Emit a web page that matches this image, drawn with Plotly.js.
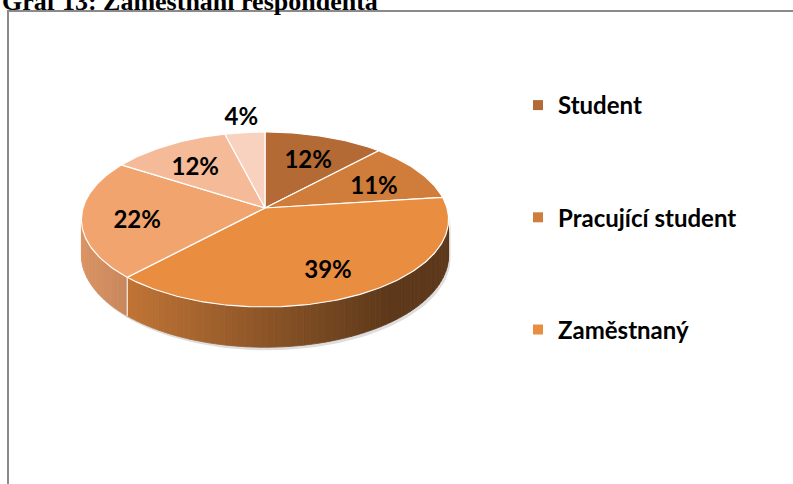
<!DOCTYPE html>
<html>
<head>
<meta charset="utf-8">
<script src="https://cdn.plot.ly/plotly-3.0.1.min.js"></script>
<style>html,body{margin:0;padding:0;background:#fff;overflow:hidden}#chart{width:793px;height:484px}</style>
</head>
<body>
<div id="chart"></div>
<script>
// ---- data ----
const chartTitle = 'Graf 13: Zaměstnání respondenta';
const categories = ['Student', 'Pracující student', 'Zaměstnaný', 'Nezaměstnaný', 'Na mateřské dovolené', 'Jiné'];
const values = [12, 11, 39, 22, 12, 4];
const valueLabels = ['12%', '11%', '39%', '22%', '12%', '4%'];
const legendCount = 3; // only the first three entries fit in the original legend

// ---- style ----
const sliceColors = ['#B36A34', '#D07C3A', '#E98D41', '#F2A46F', '#F5BA98', '#F8D2BF'];
const geom = {cx: 265, cy: 208, rx: 182, ry: 86, k: 0.131, depth: 35, labelDrop: 6};
const labelFont = {family: 'Lato, "Open Sans", sans-serif', size: 24, color: '#000', weight: 'bold'};

function proj(deg, r, drop) {
  const t = deg * Math.PI / 180;
  const X = r * Math.sin(t), Z = r * Math.cos(t);
  const w = 1 + geom.k * Z;
  return [geom.cx + geom.rx * X / w, geom.cy - geom.ry * Z / w + (drop ? geom.depth / w : 0)];
}
function hexToRgb(h) { const n = parseInt(h.slice(1), 16); return [(n >> 16) & 255, (n >> 8) & 255, n & 255]; }
function shade(h, f) { const c = hexToRgb(h).map(v => Math.round(v * f)); return 'rgb(' + c.join(',') + ')'; }

const total = values.reduce((a, b) => a + b, 0);
const starts = [], ends = [];
let acc = 0;
values.forEach(v => { starts.push(acc / total * 360); acc += v; ends.push(acc / total * 360); });

const traces = [];

// legend entries
for (let i = 0; i < legendCount; i++) {
  traces.push({x: [null], y: [null], type: 'scatter', mode: 'markers', name: categories[i],
    legendgroup: 'g' + i, showlegend: true,
    marker: {symbol: 'square', size: 10, color: sliceColors[i]}, hoverinfo: 'skip'});
}

// side of the disc
const silL = 90 + Math.asin(geom.k) * 180 / Math.PI;
const silR = 270 - Math.asin(geom.k) * 180 / Math.PI;
const xMin = proj(silR, 1, false)[0], xMax = proj(silL, 1, false)[0];

// shadow under the side
(function () {
  const xs = [], ys = [];
  for (let a = silL; a <= silR + 0.001; a += 2) { const p = proj(a, 1, false); xs.push(p[0] + 2); ys.push(p[1] + 2); }
  for (let a = silR; a >= silL - 0.001; a -= 2) { const p = proj(a, 1, true); xs.push(p[0] + 2); ys.push(p[1] + 3); }
  traces.push({x: xs, y: ys, type: 'scatter', mode: 'lines', fill: 'toself', fillcolor: 'rgba(0,0,0,0.13)',
    line: {width: 0}, showlegend: false, hoverinfo: 'skip'});
})();

const cuts = [silL];
ends.forEach(e => { if (e > silL && e < silR) cuts.push(e); });
cuts.push(silR);
cuts.sort((a, b) => a - b);
for (let c = 0; c < cuts.length - 1; c++) {
  const a0 = cuts[c], a1 = cuts[c + 1];
  const n = Math.max(1, Math.ceil((a1 - a0) / 2));
  for (let s = 0; s < n; s++) {
    const b0 = a0 + (a1 - a0) * s / n, b1 = a0 + (a1 - a0) * (s + 1) / n;
    const mid = (b0 + b1) / 2;
    let idx = 0;
    for (let i = 0; i < values.length; i++) if (mid >= starts[i] && mid < ends[i]) idx = i;
    const pm = proj(mid, 1, false);
    const t = (pm[0] - xMin) / (xMax - xMin);
    const f = Math.max(0.4, 0.9 - 0.6 * t);
    const col = shade(sliceColors[idx], f);
    const p0 = proj(b0, 1, false), p1 = proj(b1, 1, false), q1 = proj(b1, 1, true), q0 = proj(b0, 1, true);
    traces.push({x: [p0[0], p1[0], q1[0], q0[0], p0[0]], y: [p0[1], p1[1], q1[1], q0[1], p0[1]],
      type: 'scatter', mode: 'lines', fill: 'toself', fillcolor: col, line: {color: col, width: 0.8},
      showlegend: false, hoverinfo: 'skip'});
  }
}
// white joints on the side
ends.forEach(e => {
  if (e > silL && e < silR) {
    const p = proj(e, 1, false), q = proj(e, 1, true);
    traces.push({x: [p[0], q[0]], y: [p[1], q[1]], type: 'scatter', mode: 'lines',
      line: {color: 'rgba(255,255,255,0.85)', width: 1.2}, showlegend: false, hoverinfo: 'skip'});
  }
});

// top face slices
values.forEach((v, i) => {
  const xs = [geom.cx], ys = [geom.cy];
  const n = Math.max(2, Math.ceil((ends[i] - starts[i])));
  for (let s = 0; s <= n; s++) {
    const p = proj(starts[i] + (ends[i] - starts[i]) * s / n, 1, false);
    xs.push(p[0]); ys.push(p[1]);
  }
  xs.push(geom.cx); ys.push(geom.cy);
  traces.push({x: xs, y: ys, type: 'scatter', mode: 'lines', fill: 'toself', fillcolor: sliceColors[i],
    line: {color: '#ffffff', width: 1.2}, showlegend: false, hoverinfo: 'skip'});
});

// data labels
const lx = [], ly = [];
values.forEach((v, i) => {
  const mid = (starts[i] + ends[i]) / 2;
  const inside = v / total >= 0.06;
  const p = proj(mid, inside ? 0.7 : 1.2, false);
  lx.push(p[0]); ly.push(p[1] + (inside ? geom.labelDrop : 0));
});
traces.push({x: lx, y: ly, text: valueLabels, type: 'scatter', mode: 'text', textposition: 'middle center',
  textfont: labelFont, showlegend: false, hoverinfo: 'skip', cliponaxis: false});

const layout = {
  width: 793, height: 484,
  margin: {l: 0, r: 0, t: 0, b: 0},
  paper_bgcolor: '#fff', plot_bgcolor: '#fff',
  xaxis: {range: [0, 793], visible: false, fixedrange: true},
  yaxis: {range: [484, 0], visible: false, fixedrange: true},
  showlegend: true,
  legend: {x: 518 / 793, xanchor: 'left', y: 1 - 83 / 484, yanchor: 'top',
    font: {family: 'Lato, "Open Sans", sans-serif', size: 24, color: '#000', weight: 'bold'},
    traceorder: 'grouped', tracegroupgap: 78, bgcolor: 'rgba(0,0,0,0)', borderwidth: 0},
  shapes: [{type: 'rect', xref: 'x', yref: 'y', x0: 8, y0: 11, x1: 900, y1: 700,
    line: {color: '#8a8a8a', width: 2}, fillcolor: 'rgba(0,0,0,0)', layer: 'below'}],
  annotations: [{text: chartTitle, xref: 'x', yref: 'y', x: 0, y: 18, xanchor: 'left', yanchor: 'bottom',
    showarrow: false, font: {family: '"Liberation Serif", "Times New Roman", serif', size: 26, color: '#000', weight: 'bold'}}]
};

Plotly.newPlot('chart', traces, layout, {displayModeBar: false, staticPlot: true});
</script>
</body>
</html>
